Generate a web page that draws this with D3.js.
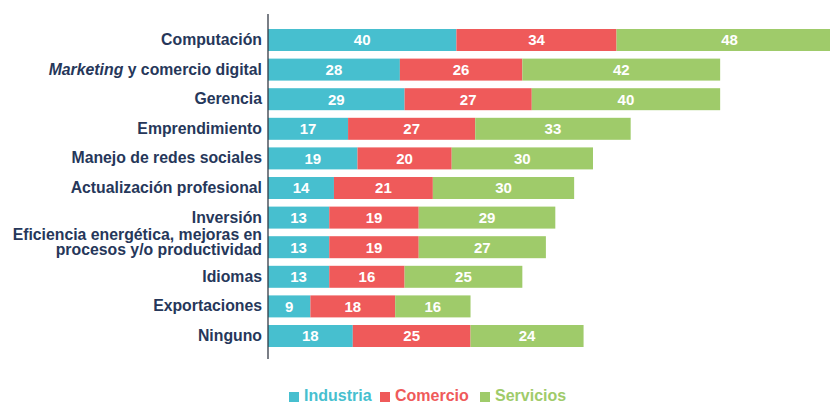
<!DOCTYPE html>
<html>
<head>
<meta charset="utf-8">
<script src="https://cdn.jsdelivr.net/npm/d3@7"></script>
<style>
  html, body { margin: 0; padding: 0; background: #ffffff; }
  svg { display: block; }
  text { font-family: "Liberation Sans", Arial, sans-serif; font-weight: bold; }
</style>
</head>
<body>
<svg id="chart" width="830" height="405"></svg>
<script>
// Capacitación requerida por sector (porcentaje de empresas)
const categories = [
  "Computación",
  "Marketing y comercio digital",
  "Gerencia",
  "Emprendimiento",
  "Manejo de redes sociales",
  "Actualización profesional",
  "Inversión",
  "Eficiencia energética, mejoras en procesos y/o productividad",
  "Idiomas",
  "Exportaciones",
  "Ninguno"
];
const industria = [40, 28, 29, 17, 19, 14, 13, 13, 13, 9, 18];
const comercio  = [34, 26, 27, 27, 20, 21, 19, 19, 16, 18, 25];
const servicios = [48, 42, 40, 33, 30, 30, 29, 27, 25, 16, 24];
const seriesNames = ["Industria", "Comercio", "Servicios"];
const seriesColors = ["#47bfcf", "#ef5a5a", "#9fcb6a"];

const svg = d3.select("#chart");
const labelColor = "#26375a";

const rows = categories.map((c, i) => ({
  category: c,
  Industria: industria[i],
  Comercio: comercio[i],
  Servicios: servicios[i]
}));

const stacked = d3.stack().keys(seriesNames)(rows);

const x0 = 268;
const x = d3.scaleLinear().domain([0, 100]).range([x0, x0 + 471]);
const y = d3.scaleBand()
  .domain(categories)
  .range([25.2, 350.8])
  .paddingInner(0.257)
  .paddingOuter(0.1285);

const color = d3.scaleOrdinal().domain(seriesNames).range(seriesColors);

const plot = svg.append("g");

const layers = plot.selectAll("g.layer")
  .data(stacked)
  .join("g")
  .attr("class", "layer")
  .attr("fill", d => color(d.key));

layers.selectAll("rect")
  .data(d => d)
  .join("rect")
  .attr("x", d => x(d[0]))
  .attr("y", d => y(d.data.category))
  .attr("width", d => x(d[1]) - x(d[0]))
  .attr("height", y.bandwidth());

// value labels inside each segment
layers.selectAll("text")
  .data(d => d.map(v => ({ v, key: d.key })))
  .join("text")
  .attr("x", d => (x(d.v[0]) + x(d.v[1])) / 2)
  .attr("y", d => y(d.v.data.category) + y.bandwidth() / 2)
  .attr("dy", "0.36em")
  .attr("text-anchor", "middle")
  .attr("fill", "#ffffff")
  .attr("font-size", 15)
  .text(d => d.v.data[d.key]);

// category axis
const axis = d3.axisLeft(y).tickSize(0).tickPadding(6);
const axisG = svg.append("g")
  .attr("transform", `translate(${x0},0)`)
  .call(axis);
axisG.select(".domain").remove();
axisG.selectAll(".tick text")
  .attr("fill", labelColor)
  .attr("font-size", 15.8)
  .each(function(d) {
    const t = d3.select(this);
    if (d.startsWith("Marketing")) {
      t.text(null);
      t.append("tspan").attr("font-style", "italic").text("Marketing");
      t.append("tspan").text(" y comercio digital");
    } else if (d.startsWith("Eficiencia")) {
      t.text(null).attr("dy", null);
      t.append("tspan").attr("x", -6).attr("dy", "-0.48em").text("Eficiencia energética, mejoras en");
      t.append("tspan").attr("x", -6).attr("dy", "1.0em").text("procesos y/o productividad");
    }
  });

svg.append("line")
  .attr("x1", x0).attr("x2", x0)
  .attr("y1", 14).attr("y2", 359)
  .attr("stroke", "#333a45")
  .attr("stroke-width", 1.3);

// legend
const legendX = [289, 380, 480];
const legend = svg.append("g").selectAll("g")
  .data(seriesNames)
  .join("g")
  .attr("transform", (d, i) => `translate(${legendX[i]},396)`);
legend.append("rect")
  .attr("x", 0).attr("y", -4)
  .attr("width", 10).attr("height", 10)
  .attr("fill", d => color(d));
legend.append("text")
  .attr("x", 15).attr("y", 0)
  .attr("dy", "0.3em")
  .attr("fill", d => color(d))
  .attr("font-size", 16)
  .text(d => d);
</script>
</body>
</html>
